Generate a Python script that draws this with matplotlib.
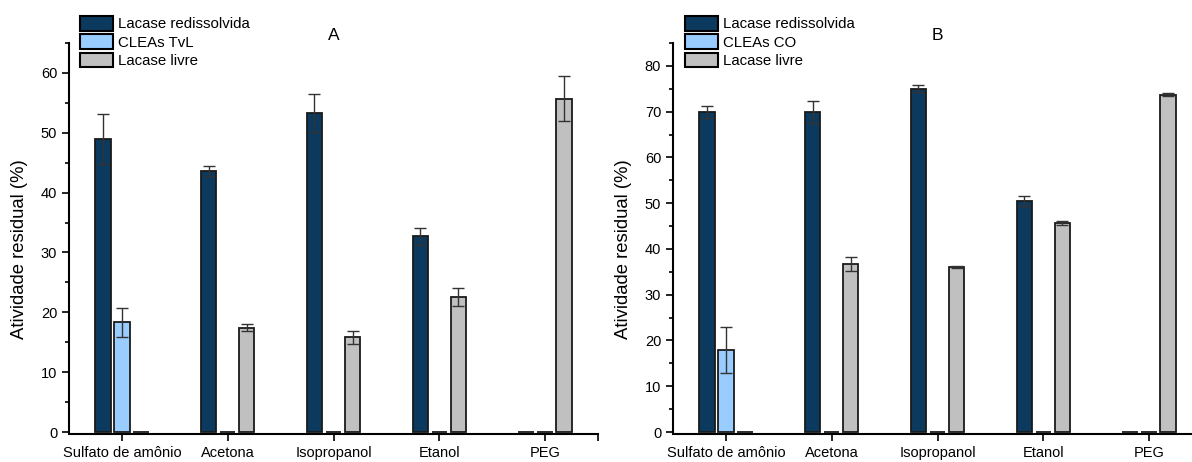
import matplotlib
matplotlib.use("Agg")
import matplotlib.pyplot as plt
import numpy as np
from matplotlib.ticker import MultipleLocator, FixedLocator

plt.rcParams["font.family"] = ["Liberation Sans", "DejaVu Sans"]

categories = ["Sulfato de amônio", "Acetona", "Isopropanol", "Etanol", "PEG"]

# Panel A (TvL)
a_redis = [48.9, 43.6, 53.3, 32.7, 0.0]
a_redis_err = [4.2, 0.9, 3.2, 1.4, 0.0]
a_clea = [18.3, 0.0, 0.0, 0.0, 0.0]
a_clea_err = [2.4, 0.0, 0.0, 0.0, 0.0]
a_livre = [0.0, 17.4, 15.8, 22.6, 55.7]
a_livre_err = [0.0, 0.6, 1.1, 1.5, 3.8]

# Panel B (CO)
b_redis = [70.0, 70.0, 75.0, 50.5, 0.0]
b_redis_err = [1.3, 2.4, 0.8, 1.1, 0.0]
b_clea = [18.0, 0.0, 0.0, 0.0, 0.0]
b_clea_err = [5.0, 0.0, 0.0, 0.0, 0.0]
b_livre = [0.0, 36.7, 36.1, 45.6, 73.7]
b_livre_err = [0.0, 1.6, 0.2, 0.4, 0.3]

COLORS = ["#0b3a5e", "#99ccff", "#c0c0c0"]
W = 1192
H = 462


def draw_panel(ax, series, errors, labels, letter, ymax, major):
    x = np.arange(1, len(categories) + 1)
    width = 0.146
    step = 0.18
    handles = []
    for i, (vals, errs, lab) in enumerate(zip(series, errors, labels)):
        pos = x + (i - 1) * step
        b = ax.bar(pos, vals, width, color=COLORS[i], edgecolor="#1a1a1a",
                   linewidth=1.3, label=lab, zorder=3, clip_on=False)
        handles.append(b)
        e = np.array(errs)
        mask = e > 0
        ax.errorbar(pos[mask], np.array(vals)[mask], yerr=e[mask], fmt="none",
                    ecolor="#333333", elinewidth=1.0, capsize=4, capthick=1.0,
                    zorder=4)

    ax.set_xlim(0.5, 5.5)
    ax.set_ylim(0, ymax)
    ax.set_xticks(x)
    ax.set_xticklabels(categories, fontsize=10.5)
    ax.xaxis.set_minor_locator(FixedLocator([5.5]))
    ax.yaxis.set_major_locator(MultipleLocator(major))
    ax.yaxis.set_minor_locator(MultipleLocator(major / 2))
    ax.tick_params(axis="both", which="major", direction="out", length=5,
                   width=1.2, labelsize=10.5, color="black")
    ax.tick_params(axis="y", which="minor", direction="out", length=3, width=1.2)
    ax.tick_params(axis="x", which="minor", direction="out", length=5, width=1.2)
    ax.tick_params(axis="x", which="major", pad=4)
    for side in ["top", "right"]:
        ax.spines[side].set_visible(False)
    for side in ["left", "bottom"]:
        ax.spines[side].set_linewidth(1.5)
    # push the base line down a touch so zero-height bars stay visible
    ax.spines["bottom"].set_position(("outward", 1.2))
    ax.set_ylabel("Atividade residual (%)", fontsize=13.3)
    ax.yaxis.set_label_coords(-0.077, 0.47)
    ax.text(0.5, 1.0, letter, transform=ax.transAxes, ha="center",
            va="bottom", fontsize=12.5)
    return handles


fig = plt.figure(figsize=(W / 100, H / 100), dpi=100)
ax_a = fig.add_axes([69 / W, 1 - 432 / H, 529 / W, 389 / H])
ax_b = fig.add_axes([673 / W, 1 - 432 / H, 529 / W, 389 / H])

ha = draw_panel(ax_a, [a_redis, a_clea, a_livre],
                [a_redis_err, a_clea_err, a_livre_err],
                ["Lacase redissolvida", "CLEAs TvL", "Lacase livre"],
                "A", 65, 10)
hb = draw_panel(ax_b, [b_redis, b_clea, b_livre],
                [b_redis_err, b_clea_err, b_livre_err],
                ["Lacase redissolvida", "CLEAs CO", "Lacase livre"],
                "B", 85, 10)

for ax, handles, left in [(ax_a, ha, 80), (ax_b, hb, 685)]:
    leg = fig.legend(handles=handles, loc="upper left",
                     bbox_to_anchor=(left / W, 1 - 16 / H), frameon=False,
                     fontsize=10.8, handlelength=2.2, handleheight=1.12,
                     labelspacing=0.2, handletextpad=0.35, borderpad=0,
                     borderaxespad=0)
    for p in leg.get_patches():
        p.set_edgecolor("black")
        p.set_linewidth(1.5)

fig.savefig("out.png", dpi=100)
